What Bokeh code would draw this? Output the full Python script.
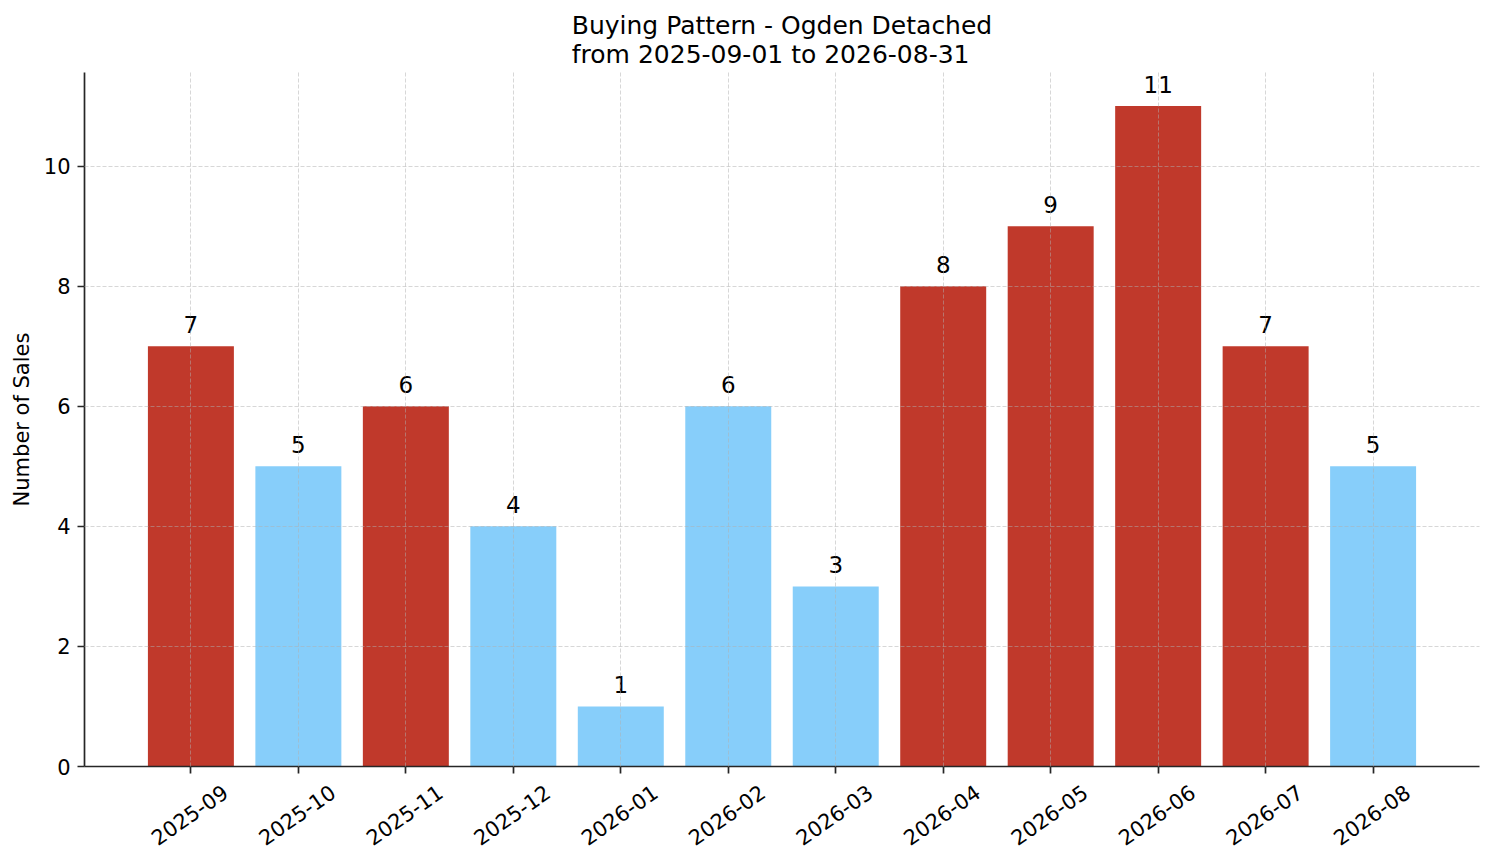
from bokeh.plotting import figure
from bokeh.models import ColumnDataSource, Range1d, FixedTicker, LinearAxis
from bokeh.embed import file_html
from bokeh.resources import INLINE
from bokeh.core.properties import value
import math

months = ["2025-09", "2025-10", "2025-11", "2025-12", "2026-01", "2026-02",
          "2026-03", "2026-04", "2026-05", "2026-06", "2026-07", "2026-08"]
sales = [7, 5, 6, 4, 1, 6, 3, 8, 9, 11, 7, 5]
highlight = [True, False, True, False, False, False, False, True, True, True, True, False]
y_ticks = [0, 2, 4, 6, 8, 10]

RED = "#c0392b"
BLUE = "#87cefa"
FONT = "DejaVu Sans"
DARK = "#262626"
LABEL_SHIFT = 0.32  # shifts rotated labels so they are centred under their ticks

xs = list(range(len(months)))
colors = [RED if h else BLUE for h in highlight]
src = ColumnDataSource(dict(x=xs, top=sales, color=colors, label=[str(v) for v in sales]))

p = figure(frame_width=1395, frame_height=694, output_backend="svg", toolbar_location=None,
           x_range=Range1d(-0.99, 11.99), y_range=Range1d(0, 11.56),
           min_border_left=84, min_border_right=2, min_border_top=72, min_border_bottom=70)
p.outline_line_color = None
p.background_fill_color = "white"

p.title.text = "Buying Pattern - Ogden Detached\nfrom 2025-09-01 to 2026-08-31"
p.title.align = "center"
p.title.text_font = FONT
p.title.text_font_size = "25px"
p.title.text_font_style = "normal"
p.title.text_color = "black"
p.title.text_line_height = 1.0
p.title.standoff = 8

p.vbar(x="x", top="top", bottom=0, width=0.8, fill_color="color", line_color=None, source=src)
p.text(x="x", y="top", text="label", source=src, text_align="center", text_baseline="bottom",
       y_offset=-13, text_font=value(FONT), text_font_size="23px", text_color="black")

label_axis = LinearAxis()
p.add_layout(label_axis, "below")

for ax in (p.xaxis[0], p.yaxis[0], label_axis):
    ax.axis_line_color = DARK
    ax.axis_line_width = 1.7
    ax.major_tick_line_color = DARK
    ax.major_tick_line_width = 1.7
    ax.major_tick_out = 7
    ax.major_tick_in = 0
    ax.minor_tick_line_color = None
    ax.major_label_text_font = FONT
    ax.major_label_text_font_size = "21px"
    ax.major_label_text_color = "black"
    ax.axis_label_text_font = FONT
    ax.axis_label_text_font_size = "21px"
    ax.axis_label_text_font_style = "normal"
    ax.axis_label_text_color = "black"

# tick marks only
xa = p.xaxis[0]
xa.ticker = FixedTicker(ticks=xs)
xa.major_label_text_font_size = "0px"
xa.major_label_standoff = 0
xa.major_label_overrides = {i: "" for i in xs}

# rotated labels only
shifted = [i + LABEL_SHIFT for i in xs]
label_axis.ticker = FixedTicker(ticks=shifted)
label_axis.major_label_overrides = {s: m for s, m in zip(shifted, months)}
label_axis.major_label_orientation = math.radians(35)
label_axis.major_label_standoff = 16
label_axis.axis_line_color = None
label_axis.major_tick_line_color = None
label_axis.major_tick_out = 0

ya = p.yaxis[0]
ya.ticker = FixedTicker(ticks=y_ticks)
ya.axis_label = "Number of Sales"
ya.major_label_standoff = 7
ya.axis_label_standoff = 7

for g in (p.xgrid[0], p.ygrid[0]):
    g.grid_line_color = "#b0b0b0"
    g.grid_line_alpha = 0.5
    g.grid_line_dash = "4 2"
    g.grid_line_width = 1
    g.level = "annotation"
p.xgrid.ticker = FixedTicker(ticks=xs)
p.ygrid.ticker = FixedTicker(ticks=y_ticks)

open("out.html", "w").write(file_html(p, INLINE))
